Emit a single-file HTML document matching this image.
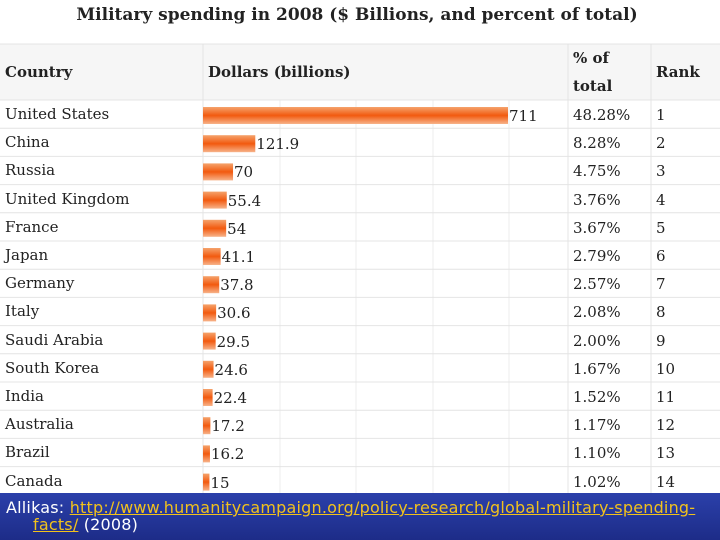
<!DOCTYPE html>
<html><head><meta charset="utf-8"><style>
body{margin:0;width:720px;height:540px;overflow:hidden;background:#fff;font-family:"DejaVu Serif",serif;position:relative}
.t{position:absolute;white-space:nowrap;color:#222}
</style></head><body>
<div class="t" style="left:0;width:714px;top:5px;text-align:center;font-weight:bold;font-size:17px">Military spending in 2008 ($ Billions, and percent of total)</div>
<svg id="tbl" width="720" height="540" style="position:absolute;left:0;top:0">
<defs><linearGradient id="g" x1="0" y1="0" x2="0" y2="1"><stop offset="0" stop-color="#f5a36c"/><stop offset="0.5" stop-color="#f25a0f"/><stop offset="1" stop-color="#f7b38a"/></linearGradient></defs>
<rect x="0" y="44" width="720" height="56" fill="#f6f6f6"/>
</svg>
<div style="position:absolute;left:0;top:493px;width:720px;height:47px;background:linear-gradient(#2b40aa,#1d2c88)"></div>
<div class="t" style="left:6px;top:499px;font-family:'DejaVu Sans',sans-serif;font-size:16px;letter-spacing:0.2px;color:#fff;line-height:17px">Allikas: <span style="color:#f2c21c;text-decoration:underline">http://www.humanitycampaign.org/policy-research/global-military-spending-</span><br><span style="padding-left:27px"><span style="color:#f2c21c;text-decoration:underline">facts/</span> (2008)</span></div>
<script>
const countries=["United States","China","Russia","United Kingdom","France","Japan","Germany","Italy","Saudi Arabia","South Korea","India","Australia","Brazil","Canada"];
const dollars=[711,121.9,70,55.4,54,41.1,37.8,30.6,29.5,24.6,22.4,17.2,16.2,15];
const dollarLabels=["711","121.9","70","55.4","54","41.1","37.8","30.6","29.5","24.6","22.4","17.2","16.2","15"];
const percents=["48.28%","8.28%","4.75%","3.76%","3.67%","2.79%","2.57%","2.08%","2.00%","1.67%","1.52%","1.17%","1.10%","1.02%"];
const ranks=["1","2","3","4","5","6","7","8","9","10","11","12","13","14"];
const NS="http://www.w3.org/2000/svg";
const svg=document.getElementById('tbl');
const x0=203,pxPer=305/711,rowTop=100,rowH=28.2;
const xs=v=>x0+v*pxPer;
function line(x1,y1,x2,y2,c,n){const l=document.createElementNS(NS,'line');l.setAttribute('x1',x1);l.setAttribute('y1',y1);l.setAttribute('x2',x2);l.setAttribute('y2',y2);l.setAttribute('stroke',c);


svg.appendChild(l);}
[203,568,651].forEach(x=>line(x,44,x,493,'#e4e4e4','column-divider'));
[280,356,433,509].forEach(x=>line(x,100,x,493,'#ececec','grid-line'));
line(0,44,720,44,'#e4e4e4','header-border');
for(let i=0;i<=countries.length;i++)line(0,rowTop+i*rowH,720,rowTop+i*rowH,'#e4e4e4','row-divider');
function txt(x,y,s,size,bold,n){const d=document.createElement('div');d.className='t';d.style.left=x+'px';d.style.top=y+'px';d.style.fontSize=size+'px';if(bold)d.style.fontWeight='bold';d.textContent=s;


document.body.appendChild(d);}
txt(5,63,'Country',15,true,'country-header');
txt(208,63,'Dollars (billions)',15,true,'dollars-header');
txt(573,49,'% of',15,true,'percent-header');
txt(573,77,'total',15,true,'percent-header');
txt(656,63,'Rank',15,true,'rank-header');
countries.forEach((c,i)=>{
  const y=rowTop+i*rowH;
  txt(5,y+5,c,15,false,'country-label');
  const r=document.createElementNS(NS,'rect');
  r.setAttribute('x',x0);r.setAttribute('y',y+7);r.setAttribute('width',Math.max(2,xs(dollars[i])-x0));r.setAttribute('height',17);r.setAttribute('fill','url(#g)');
  
  
  svg.appendChild(r);
  txt(xs(dollars[i])+1,y+7,dollarLabels[i],15,false,'value-label');
  txt(573,y+6,percents[i],15,false,'percent-value');
  txt(656,y+6,ranks[i],15,false,'rank-value');
});
</script>
</body></html>
